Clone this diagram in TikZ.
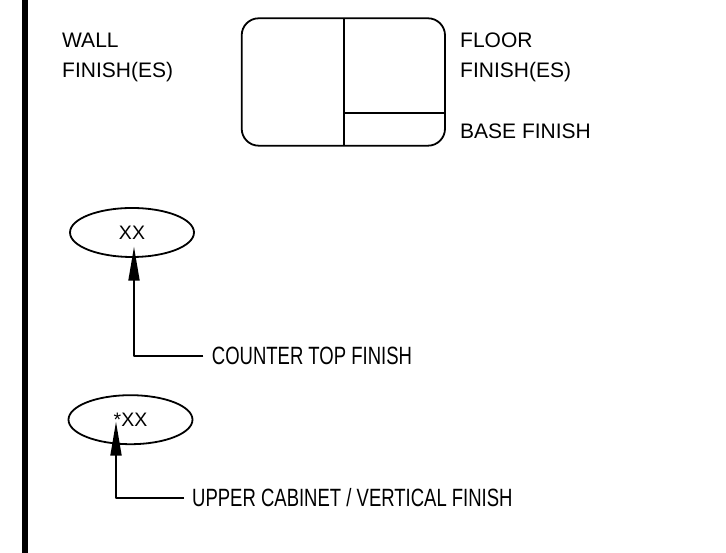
\documentclass[tikz,border=0pt]{standalone}
\usepackage{fontspec}
\setmainfont{Liberation Sans}
\newfontfamily\narrowfont[FakeStretch=0.74]{Liberation Sans}
\usetikzlibrary{shapes.geometric,arrows.meta}
\tikzset{
  legendtext/.style={font=\fontsize{21}{30.5}\selectfont,align=left,inner sep=0pt},
  calloutlabel/.style={font=\narrowfont\fontsize{25}{30}\selectfont,inner sep=0pt,anchor=west},
  tagoval/.style={draw,ellipse,line width=1.8pt,minimum width=124pt,minimum height=49pt,
    inner sep=0pt,font=\fontsize{19.5}{22}\selectfont},
  leader/.style={line width=1.8pt,-{Triangle[length=34pt,width=11pt]}}
}
\begin{document}
\begin{tikzpicture}[x=1pt,y=1pt,line cap=butt,line join=round]
  \useasboundingbox (0,0) rectangle (726,553);
  % heavy border line at left
  \fill[black] (22,0) rectangle (28,553);
  % finish key box
  \draw[line width=1.8pt,rounded corners=17pt] (241.7,407.3) rectangle (445,534.7);
  \draw[line width=1.8pt] (344,534.7) -- (344,407.3);
  \draw[line width=1.8pt] (344,440.3) -- (445,440.3);
  \node[legendtext,anchor=north west] (wall) at (62,520.5) {WALL\\FINISH(ES)};
  \node[legendtext,anchor=north west] (floor) at (460,520.5) {FLOOR\\FINISH(ES)};
  \node[legendtext,anchor=base west] (base) at (460,414.7) {BASE FINISH};
  % counter top tag
  \node[tagoval] (ctoval) at (132,320.5) {XX};
  \coordinate (cttip) at (134,306.3);
  \node[calloutlabel] (ctlabel) at (211.7,197) {COUNTER TOP FINISH};
  \draw[leader] ([xshift=-8.4pt]ctlabel.west) -| (cttip);
  % upper cabinet tag
  \node[tagoval] (ucoval) at (130.5,133.3) {*XX};
  \coordinate (uctip) at (116,131.3);
  \node[calloutlabel] (uclabel) at (192,55.3) {UPPER CABINET / VERTICAL FINISH};
  \draw[leader] ([xshift=-8pt]uclabel.west) -| (uctip);
\end{tikzpicture}
\end{document}
